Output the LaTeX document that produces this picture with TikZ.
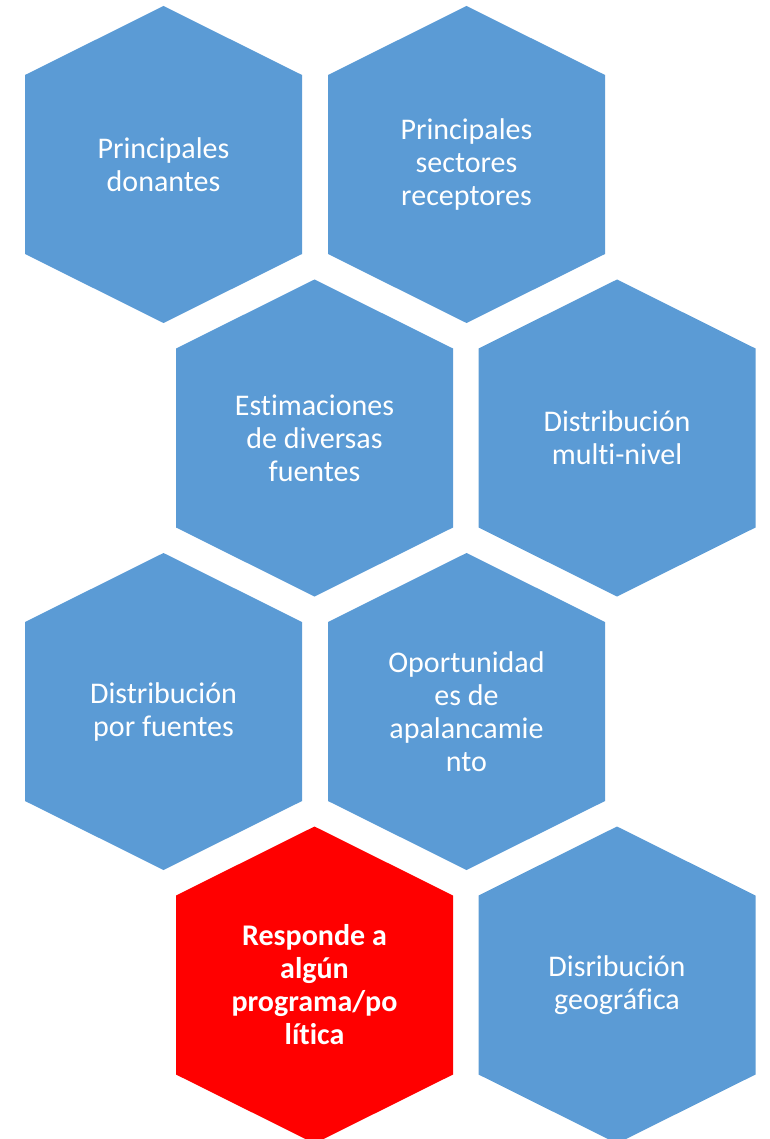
\documentclass[tikz,border=0pt]{standalone}
\usepackage{fontspec}
\setmainfont[Ligatures={NoCommon}]{Carlito}
\definecolor{hexblue}{HTML}{5B9BD5}
\definecolor{hexred}{HTML}{FF0000}
\tikzset{
  hexlabel/.style={text=white,align=center,font=\fontsize{30}{33}\selectfont},
  hexbold/.style={hexlabel,font=\fontsize{30}{33}\selectfont\bfseries}
}
\newcommand\hexshape[3]{%
  \fill[#3] (#1pt,-#2pt) ++(0,158.5pt) -- ++(138.5pt,-69pt) -- ++(0,-179pt)
    -- ++(-138.5pt,-69pt) -- ++(-138.5pt,69pt) -- ++(0,179pt) -- cycle;}
\begin{document}
\begin{tikzpicture}[x=1pt,y=1pt]
\useasboundingbox (0,0) rectangle (769,-1139);
\hexshape{163.5}{164.5}{hexblue}
\hexshape{466.5}{164.5}{hexblue}
\hexshape{314.5}{438}{hexblue}
\hexshape{617}{438}{hexblue}
\hexshape{163.5}{711.5}{hexblue}
\hexshape{466.5}{711.5}{hexblue}
\hexshape{314.5}{985}{hexred}
\hexshape{617}{985}{hexblue}
\node[hexlabel] (h1) at (163.5,-164.5) {Principales\\donantes};
\node[hexlabel] (h2) at (466.5,-164.5) {Principales\\sectores\\receptores};
\node[hexlabel] (h3) at (314.5,-438) {Estimaciones\\de diversas\\fuentes};
\node[hexlabel] (h4) at (617,-438) {Distribución\\multi-nivel};
\node[hexlabel] (h5) at (163.5,-711.5) {Distribución\\por fuentes};
\node[hexlabel] (h6) at (466.5,-711.5) {Oportunidad\\es de\\apalancamie\\nto};
\node[hexbold] (h7) at (314.5,-985) {Responde a\\algún\\programa/po\\lítica};
\node[hexlabel] (h8) at (617,-985) {Disribución\\geográfica};
\end{tikzpicture}
\end{document}
